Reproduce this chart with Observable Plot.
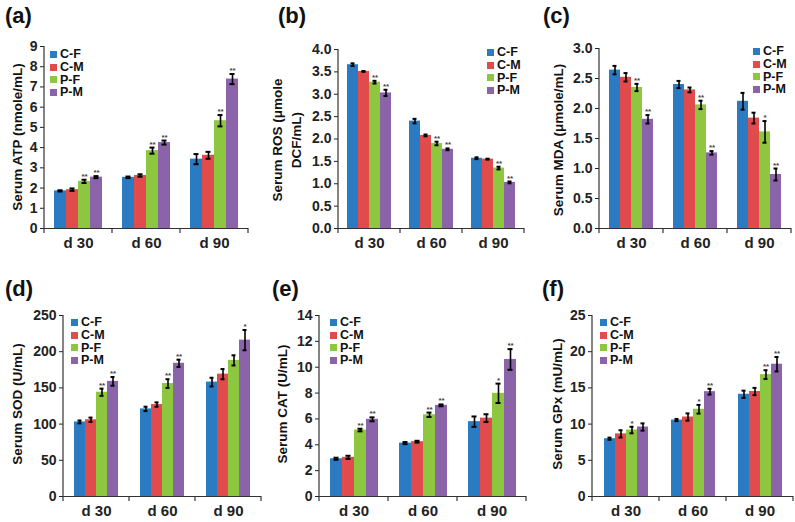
<!DOCTYPE html>
<html>
<head>
<meta charset="utf-8">
<script src="https://cdn.jsdelivr.net/npm/d3@7"></script>
<script src="https://cdn.jsdelivr.net/npm/@observablehq/plot@0.6"></script>
<style>
  html, body { margin: 0; padding: 0; background: #fff; }
  #fig { position: relative; width: 795px; height: 522px; overflow: hidden; font-family: "Liberation Sans", Arial, sans-serif; font-weight: bold; color: #111; }
  .pane { position: absolute; width: 265px; height: 261px; }
  .ttl { position: absolute; font-size: 22px; line-height: 22px; font-weight: bold; color: #111; }
  .ylab { position: absolute; font-size: 13.5px; line-height: 19px; white-space: nowrap; text-align: center; transform: translate(-50%, -50%) rotate(-90deg); color: #111; }
  .leg { position: absolute; font-size: 12.5px; line-height: 12.8px; color: #111; }
  .leg div { display: flex; align-items: center; height: 12.8px; }
  .leg span.sw { display: inline-block; width: 7px; height: 7px; margin-right: 3px; }
  svg [aria-label^="fx-axis"] text { font-size: 15px; }
</style>
</head>
<body>
<div id="fig"></div>
<script>
// ---------- data ----------
const days = ["d 30", "d 60", "d 90"];
const groups = ["C-F", "C-M", "P-F", "P-M"];
const colors = ["#2b7bc3", "#e14b4b", "#8dc63f", "#8a63a8"];

// values ordered d30 (C-F, C-M, P-F, P-M), d60 (...), d90 (...)
const atpMean = [1.86, 1.92, 2.33, 2.54, 2.53, 2.62, 3.85, 4.25, 3.43, 3.62, 5.33, 7.39];
const atpErr  = [0.03, 0.06, 0.08, 0.05, 0.04, 0.06, 0.15, 0.10, 0.25, 0.17, 0.28, 0.25];
const atpSig  = ["", "", "**", "**", "", "", "**", "**", "", "", "**", "**"];

const rosMean = [3.66, 3.51, 3.27, 3.03, 2.40, 2.08, 1.90, 1.77, 1.57, 1.55, 1.35, 1.03];
const rosErr  = [0.03, 0.01, 0.03, 0.07, 0.05, 0.02, 0.04, 0.02, 0.02, 0.01, 0.03, 0.02];
const rosSig  = ["", "", "**", "**", "", "", "**", "**", "", "", "**", "**"];

const mdaMean = [2.64, 2.52, 2.35, 1.82, 2.40, 2.31, 2.06, 1.26, 2.12, 1.84, 1.61, 0.90];
const mdaErr  = [0.07, 0.07, 0.06, 0.07, 0.06, 0.04, 0.07, 0.03, 0.14, 0.09, 0.18, 0.10];
const mdaSig  = ["", "", "**", "**", "", "", "**", "**", "", "", "*", "**"];

const sodMean = [103, 106, 144, 159, 121, 127, 156, 184, 158, 169, 188, 216];
const sodErr  = [2, 3, 5, 6, 3, 3, 6, 5, 6, 7, 7, 14];
const sodSig  = ["", "", "**", "**", "", "", "**", "**", "", "", "", "*"];

const catMean = [2.92, 3.03, 5.14, 5.97, 4.13, 4.24, 6.32, 7.05, 5.79, 6.06, 7.98, 10.6];
const catErr  = [0.08, 0.12, 0.10, 0.15, 0.08, 0.07, 0.17, 0.07, 0.40, 0.30, 0.75, 0.80];
const catSig  = ["", "", "**", "**", "", "", "**", "**", "", "", "*", "**"];

const gpxMean = [7.98, 8.65, 9.18, 9.60, 10.56, 10.98, 12.05, 14.48, 14.12, 14.50, 16.84, 18.27];
const gpxErr  = [0.15, 0.50, 0.45, 0.50, 0.15, 0.50, 0.60, 0.40, 0.50, 0.50, 0.60, 1.00];
const gpxSig  = ["", "", "*", "", "", "", "*", "**", "", "", "**", "**"];

const atpTicks = [0, 1, 2, 3, 4, 5, 6, 7, 8, 9];
const rosTicks = [0, 0.5, 1, 1.5, 2, 2.5, 3, 3.5, 4];
const mdaTicks = [0, 0.5, 1, 1.5, 2, 2.5, 3];
const sodTicks = [0, 50, 100, 150, 200, 250];
const catTicks = [0, 2, 4, 6, 8, 10, 12, 14];
const gpxTicks = [0, 5, 10, 15, 20, 25];

// ---------- layout ----------
const panels = [
  {tag: "(a)", label: "Serum ATP (nmole/mL)", mean: atpMean, err: atpErr, sig: atpSig, ticks: atpTicks, fmt: d3.format("d"),
   left: 0, top: 0, ml: 43, mr: 17, mt: 46, mb: 33, tx: 5, ty: 5, lx: 17, ly: 137, gx: 50, gy: 48},
  {tag: "(b)", label: "Serum ROS (μmole<br>DCF/mL)", mean: rosMean, err: rosErr, sig: rosSig, ticks: rosTicks, fmt: d3.format(".1f"),
   left: 265, top: 0, ml: 73, mr: 6, mt: 49, mb: 33, tx: 278, ty: 5, lx: 287, ly: 140, gx: 487, gy: 46},
  {tag: "(c)", label: "Serum MDA (μmole/mL)", mean: mdaMean, err: mdaErr, sig: mdaSig, ticks: mdaTicks, fmt: d3.format(".1f"),
   left: 530, top: 0, ml: 68, mr: 3, mt: 48, mb: 33, tx: 543, ty: 5, lx: 558, ly: 140, gx: 753, gy: 45},
  {tag: "(d)", label: "Serum SOD (U/mL)", mean: sodMean, err: sodErr, sig: sodSig, ticks: sodTicks, fmt: d3.format("d"),
   left: 0, top: 261, ml: 62, mr: 3, mt: 54, mb: 26, tx: 5, ty: 278, lx: 17, ly: 404, gx: 71, gy: 316},
  {tag: "(e)", label: "Serum CAT (U/mL)", mean: catMean, err: catErr, sig: catSig, ticks: catTicks, fmt: d3.format("d"),
   left: 265, top: 261, ml: 53, mr: 3, mt: 54, mb: 26, tx: 272, ty: 278, lx: 282, ly: 404, gx: 330, gy: 316},
  {tag: "(f)", label: "Serum GPx (mU/mL)", mean: gpxMean, err: gpxErr, sig: gpxSig, ticks: gpxTicks, fmt: d3.format("d"),
   left: 530, top: 261, ml: 62, mr: 2, mt: 54, mb: 26, tx: 542, ty: 278, lx: 557, ly: 404, gx: 600, gy: 316}
];

const fig = document.getElementById("fig");

for (const p of panels) {
  const rows = [];
  days.forEach((day, i) => groups.forEach((g, j) => {
    const k = i * 4 + j;
    rows.push({day, group: g, v: p.mean[k], e: p.err[k], sig: p.sig[k]});
  }));
  const ymax = p.ticks[p.ticks.length - 1];
  const chart = Plot.plot({
    width: 265, height: 261,
    marginLeft: p.ml, marginRight: p.mr, marginTop: p.mt, marginBottom: p.mb,
    style: {fontFamily: "'Liberation Sans', Arial, sans-serif", fontSize: "14px", fontWeight: "bold", color: "#222", background: "transparent", overflow: "visible"},
    facet: {data: rows, x: "day"},
    fx: {domain: days, padding: 0, label: null, axis: "bottom", tickSize: 0, tickPadding: 9},
    x: {domain: groups, paddingInner: 0, paddingOuter: 0.8, axis: null},
    y: {domain: [0, ymax], ticks: p.ticks, tickFormat: p.fmt, tickSize: 4, tickPadding: 3, label: null},
    color: {domain: groups, range: colors},
    marks: [
      Plot.barY(rows, {x: "group", y: "v", fill: "group"}),
      Plot.ruleX(rows, {x: "group", y1: d => d.v - d.e, y2: d => d.v + d.e, stroke: "#000", strokeWidth: 1.6}),
      Plot.tickY(rows, {x: "group", y: d => d.v - d.e, stroke: "#000", strokeWidth: 2, insetLeft: 3.5, insetRight: 3.5}),
      Plot.tickY(rows, {x: "group", y: d => d.v + d.e, stroke: "#000", strokeWidth: 2, insetLeft: 3.5, insetRight: 3.5}),
      Plot.text(rows, {x: "group", y: d => d.v + d.e, text: "sig", lineAnchor: "bottom", dy: -1, fontSize: 8, fill: "#444", fontWeight: "bold"}),
      Plot.ruleY([0], {stroke: "#333", strokeWidth: 1.2})
    ]
  });

  // axis line and category boundary ticks from the plot's own scales
  const fx = chart.scale("fx"), y = chart.scale("y");
  const y0 = y.apply(0), yTop = y.apply(ymax);
  const edges = days.map(d => fx.apply(d));
  edges.push(edges[edges.length - 1] + fx.bandwidth);
  const g = d3.select(chart).append("g").attr("stroke", "#333").attr("stroke-width", 1.2);
  g.append("line").attr("x1", edges[0]).attr("x2", edges[0]).attr("y1", y0).attr("y2", yTop);
  for (const xe of edges) g.append("line").attr("x1", xe).attr("x2", xe).attr("y1", y0).attr("y2", y0 + 5);

  const pane = document.createElement("div");
  pane.className = "pane";
  pane.style.left = p.left + "px";
  pane.style.top = p.top + "px";
  pane.appendChild(chart);
  fig.appendChild(pane);

  const t = document.createElement("div");
  t.className = "ttl";
  t.style.left = p.tx + "px"; t.style.top = p.ty + "px";
  t.textContent = p.tag;
  fig.appendChild(t);

  const yl = document.createElement("div");
  yl.className = "ylab";
  yl.style.left = p.lx + "px"; yl.style.top = p.ly + "px";
  yl.innerHTML = p.label;
  fig.appendChild(yl);

  const leg = document.createElement("div");
  leg.className = "leg";
  leg.style.left = p.gx + "px"; leg.style.top = p.gy + "px";
  groups.forEach((gname, i) => {
    const r = document.createElement("div");
    const sw = document.createElement("span");
    sw.className = "sw"; sw.style.background = colors[i];
    r.appendChild(sw);
    r.appendChild(document.createTextNode(gname));
    leg.appendChild(r);
  });
  fig.appendChild(leg);
}
</script>
</body>
</html>
